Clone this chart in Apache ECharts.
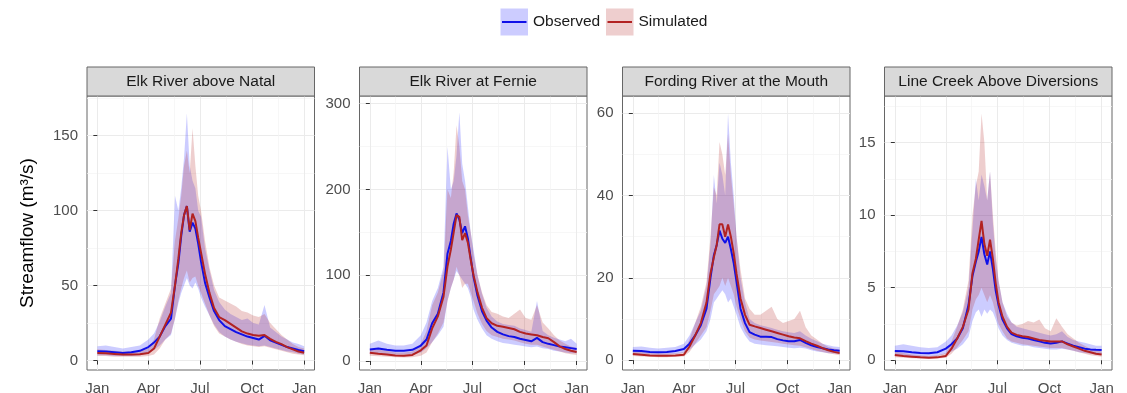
<!DOCTYPE html>
<html>
<head>
<meta charset="utf-8">
<title>Streamflow</title>
<script src="https://cdn.jsdelivr.net/npm/echarts@6/dist/echarts.min.js"></script>
<style>
  html, body { margin: 0; padding: 0; background: #fff; }
  #chart { width: 1127px; height: 393px; }
</style>
</head>
<body>
<div id="chart"></div>
<script>
// day of year for each sample
var days = [0, 15, 30, 45, 60, 75, 90, 100, 110, 120, 130, 137, 143, 148, 153, 158, 163, 168, 173, 178, 183,
  190, 198, 206, 215, 225, 235, 245, 255, 265, 275, 285, 295, 305, 315, 325, 335, 345, 355, 365];

var panelNames = ['Elk River above Natal', 'Elk River at Fernie', 'Fording River at the Mouth', 'Line Creek Above Diversions'];
var monthTicks = [0, 90, 181, 273, 365];
var monthLabels = ['Jan', 'Apr', 'Jul', 'Oct', 'Jan'];
var monthMinor = [45, 135.5, 227, 319];
var yTicks = [[0, 50, 100, 150], [0, 100, 200, 300], [0, 20, 40, 60], [0, 5, 10, 15]];
var yMinor = [[25, 75, 125, 175], [50, 150, 250], [10, 30, 50], [2.5, 7.5, 12.5, 17.5]];
var yRange = [[-6.3, 176.5], [-10.5, 309], [-2.4, 64.2], [-0.67, 18.2]];

// Elk River above Natal
var natalObs = [6.2, 6, 5.5, 5, 5.5, 6.5, 9, 12, 16, 23, 28, 50, 65, 83, 97, 103, 86, 92, 88, 78, 66, 52, 42, 33, 27, 23, 21, 19, 17.5, 16, 15, 14, 16.5, 13.5, 12, 10.5, 9, 8, 7, 6.2];
var natalSim = [5.1, 4.8, 4.4, 4, 4, 4.2, 5, 8, 16, 24, 32, 50, 68, 85, 97, 103, 87, 98, 93, 82, 72, 58, 45, 35, 29, 27, 24.5, 22, 19.5, 18, 17, 16.5, 17, 14.5, 12.5, 11, 9, 7.5, 6, 5.2];
var natalObsLo = [3.5, 3.5, 3, 3, 3, 3.5, 5, 7, 10, 14, 17, 28, 38, 45, 50, 55, 50, 48, 52, 48, 42, 36, 30, 24, 19, 16, 14, 12.5, 11.5, 10.5, 10, 9.5, 10, 9, 8, 7, 6, 5.5, 4.5, 4];
var natalObsHi = [9.5, 10, 9, 8, 9, 10, 14, 18, 26, 36, 45, 110, 100, 115, 135, 165, 130, 120, 115, 100, 96, 75, 60, 47, 39, 34, 31, 29, 27, 28, 25, 24, 37, 22, 19, 16, 14, 12, 11, 9.5];
var natalSimLo = [3, 3, 2.5, 2.5, 2.5, 2.5, 3, 4, 8, 14, 18, 28, 40, 48, 55, 60, 52, 55, 56, 50, 45, 38, 30, 23, 18, 16, 14, 12.5, 11, 10, 9.5, 9, 9.5, 8.5, 7.5, 6.5, 5.5, 4.5, 4, 3.5];
var natalSimHi = [7.5, 7, 6.5, 6, 6, 6.5, 8, 14, 28, 38, 48, 80, 95, 110, 130, 140, 125, 155, 130, 110, 100, 80, 62, 50, 42, 40, 38, 36, 33, 32, 30, 29, 31, 25, 21, 17, 14, 11, 9, 8];

// Elk River at Fernie
var fernieObs = [13.5, 14.5, 13, 12, 12, 13, 18, 25, 44, 55, 80, 125, 140, 160, 172, 165, 149, 157, 143, 120, 98, 76, 58, 47, 39, 34, 31, 29, 28, 26, 24.5, 23, 27, 22, 20, 18.5, 17, 16, 15, 14];
var fernieSim = [9.7, 8.5, 7.5, 6.5, 6.2, 7, 12.5, 18, 38, 52, 75, 110, 130, 150, 170, 168, 141, 149, 138, 118, 100, 80, 62, 50, 44, 41, 40, 38.5, 37, 34, 32, 31, 30, 28, 26.5, 22, 17, 14, 12, 10.5];
var fernieObsLo = [8, 9, 8, 7.5, 7.5, 8, 10, 15, 22, 30, 40, 70, 85, 95, 105, 100, 95, 90, 85, 75, 60, 48, 38, 30, 26, 23, 21, 20, 19, 18, 17, 16, 17, 15, 14, 12, 11, 10, 9, 9];
var fernieObsHi = [20, 24, 20, 18, 18, 20, 30, 45, 70, 85, 110, 250, 200, 210, 240, 290, 230, 210, 180, 150, 130, 100, 78, 62, 52, 46, 43, 42, 41, 38, 36, 34, 70, 35, 30, 27, 25, 23, 26, 20];
var fernieSimLo = [6, 5.5, 5, 4.5, 4, 4.5, 6, 10, 22, 32, 45, 70, 85, 95, 110, 100, 85, 90, 90, 80, 70, 55, 43, 35, 30, 28, 26, 25, 24, 22, 20, 19, 19, 17, 15, 13, 11, 9, 8, 7];
var fernieSimHi = [14, 13, 12, 10, 10, 11, 20, 35, 65, 80, 105, 200, 190, 220, 275, 250, 210, 200, 170, 150, 125, 100, 80, 65, 57, 55, 52, 50, 55, 60, 50, 48, 65, 45, 38, 30, 24, 20, 17, 15];

// Fording River at the Mouth
var fordingObs = [2.3, 2.2, 2, 1.9, 2, 2.2, 2.7, 4, 6, 8.5, 12.5, 20, 25.5, 28, 31.5, 29.5, 28.5, 30, 27, 23.6, 19, 12.5, 9, 6.8, 6.2, 5.7, 5.7, 5.6, 5.1, 4.8, 4.6, 4.6, 4.9, 4.2, 3.6, 3.2, 2.9, 2.6, 2.4, 2.3];
var fordingSim = [1.5, 1.3, 1.1, 1.05, 1.05, 1.1, 1.3, 3.3, 6, 9, 14, 21, 25, 28, 33, 33, 30, 33, 30, 26, 21, 15, 11, 8.6, 8.2, 7.8, 7.4, 7, 6.6, 6.2, 5.8, 5.5, 5.3, 4.6, 4, 3.5, 2.9, 2.4, 2, 1.7];
var fordingObsLo = [1.5, 1.5, 1.3, 1.3, 1.3, 1.5, 1.8, 2.5, 3.8, 5, 7, 10, 14, 15, 16, 17, 16, 14, 15, 13, 11, 8, 6, 4.5, 4, 3.8, 3.6, 3.5, 3.4, 3.2, 3, 2.9, 3, 2.8, 2.4, 2.1, 1.9, 1.7, 1.6, 1.5];
var fordingObsHi = [3.2, 3.3, 3, 2.8, 3, 3.2, 4, 6, 9, 12, 18, 28, 45, 38, 48, 45, 40, 60, 48, 40, 30, 20, 14, 10, 9, 8.5, 8.2, 7.8, 7.4, 7, 6.8, 6.6, 7, 6, 5.2, 4.6, 4, 3.6, 3.3, 3.2];
var fordingSimLo = [1, 0.9, 0.8, 0.7, 0.7, 0.8, 0.9, 2, 4, 6, 8, 12, 16, 17, 18, 20, 18, 20, 18, 16, 13, 10, 7, 5.5, 5, 4.8, 4.6, 4.4, 4.2, 4, 3.8, 3.6, 3.5, 3.1, 2.7, 2.3, 2, 1.7, 1.4, 1.2];
var fordingSimHi = [2.2, 2, 1.7, 1.6, 1.6, 1.7, 2, 5, 9, 13, 19, 30, 42, 40, 53, 50, 45, 55, 45, 38, 30, 22, 15, 12.5, 11, 11, 12, 13, 10, 9, 9.5, 10, 12, 8, 6, 5, 4, 3.2, 2.8, 2.5];

// Line Creek Above Diversions
var lineObs = [0.64, 0.62, 0.55, 0.5, 0.48, 0.55, 0.8, 1.1, 1.5, 2.2, 3.8, 5.8, 6.8, 7.5, 8.5, 7.3, 6.6, 7.5, 6.3, 4.8, 3.8, 2.8, 2.2, 1.8, 1.65, 1.55, 1.5, 1.4, 1.3, 1.2, 1.15, 1.2, 1.3, 1.15, 1, 0.9, 0.8, 0.75, 0.72, 0.7];
var lineSim = [0.37, 0.3, 0.25, 0.2, 0.18, 0.2, 0.3, 0.8, 1.5, 2.3, 3.5, 6, 7, 8.3, 9.6, 8, 7.2, 8.3, 7, 5.3, 4, 3, 2.3, 1.9, 1.75, 1.65, 1.6, 1.5, 1.4, 1.35, 1.3, 1.3, 1.3, 1.1, 0.95, 0.8, 0.65, 0.55, 0.45, 0.4];
var lineObsLo = [0.3, 0.3, 0.25, 0.25, 0.25, 0.3, 0.45, 0.6, 0.8, 1.1, 1.6, 2.7, 3.3, 3.5, 3, 3.5, 3.2, 3.5, 3.3, 2.8, 2.2, 1.7, 1.4, 1.2, 1.1, 1, 1, 0.9, 0.85, 0.8, 0.75, 0.75, 0.8, 0.75, 0.65, 0.55, 0.5, 0.45, 0.4, 0.4];
var lineObsHi = [1, 1.1, 1, 0.9, 0.85, 0.9, 1.3, 1.7, 2.4, 3.3, 5, 9, 12.5, 11, 12.8, 12, 11, 13, 9.5, 7, 5.5, 4, 3.2, 2.6, 2.3, 2.2, 2.1, 2, 1.9, 1.8, 1.7, 1.8, 2, 1.6, 1.4, 1.3, 1.2, 1.1, 1, 1];
var lineSimLo = [0.2, 0.17, 0.14, 0.12, 0.1, 0.12, 0.18, 0.45, 0.9, 1.4, 2, 3.5, 4.2, 4.5, 5, 4.5, 4, 4.5, 4, 3.2, 2.5, 2, 1.5, 1.3, 1.2, 1.1, 1.05, 1, 0.95, 0.9, 0.85, 0.85, 0.85, 0.75, 0.65, 0.55, 0.45, 0.35, 0.3, 0.25];
var lineSimHi = [0.6, 0.5, 0.4, 0.35, 0.3, 0.35, 0.5, 1.3, 2.3, 3.5, 5.5, 10, 12, 13, 17, 15, 11, 13, 10, 7.5, 5.5, 4, 3, 2.6, 2.4, 2.5, 2.7, 2.6, 2.8, 2.2, 2, 2.9, 2.3, 1.8, 1.5, 1.2, 1, 0.8, 0.7, 0.6];

var panels = [
  {obs: natalObs, sim: natalSim, obsLo: natalObsLo, obsHi: natalObsHi, simLo: natalSimLo, simHi: natalSimHi},
  {obs: fernieObs, sim: fernieSim, obsLo: fernieObsLo, obsHi: fernieObsHi, simLo: fernieSimLo, simHi: fernieSimHi},
  {obs: fordingObs, sim: fordingSim, obsLo: fordingObsLo, obsHi: fordingObsHi, simLo: fordingSimLo, simHi: fordingSimHi},
  {obs: lineObs, sim: lineSim, obsLo: lineObsLo, obsHi: lineObsHi, simLo: lineSimLo, simHi: lineSimHi}
];

// layout
var FONT = "'Liberation Sans', Arial, sans-serif";
var panelLeft = [87, 359.5, 622.5, 884.5];
var panelW = 227.5, panelTop = 96, panelH = 274, stripH = 29;
var obsColor = '#1010e8', simColor = '#b22222';
var obsFill = 'rgba(40,40,255,0.24)', simFill = 'rgba(178,34,34,0.22)';
var frameColor = '#666';

function pairs(vals) {
  return days.map(function(d, i) { return [d, vals[i]]; });
}

// ribbon between lo and hi, drawn once as a polygon through the axis scales
function ribbon(k, lo, hi, fill) {
  return {
    type: 'custom', xAxisIndex: 2 * k, yAxisIndex: 2 * k, silent: true, z: 1,
    data: days.map(function(d, i) { return [d, lo[i], hi[i]]; }),
    encode: {x: 0, y: [1, 2]},
    renderItem: function(params, api) {
      if (params.dataIndex !== 0) return null;
      var top = [], bottom = [];
      for (var i = 0; i < days.length; i++) {
        top.push(api.coord([days[i], hi[i]]));
        bottom.unshift(api.coord([days[i], lo[i]]));
      }
      return {
        type: 'polygon',
        shape: {points: top.concat(bottom)},
        style: {fill: fill}
      };
    }
  };
}

var grids = [], xAxes = [], yAxes = [], series = [], graphics = [];

panels.forEach(function(p, k) {
  grids.push({
    left: panelLeft[k], top: panelTop, width: panelW, height: panelH,
    outerBoundsMode: 'none', containLabel: false,
    show: true, borderColor: frameColor, borderWidth: 1, backgroundColor: '#fff'
  });

  xAxes.push({
    type: 'value', gridIndex: k, min: -18.25, max: 383.25,
    axisLine: {show: false},
    axisTick: {show: true, customValues: monthTicks, length: 4, lineStyle: {color: '#333'}},
    axisLabel: {
      customValues: monthTicks, fontSize: 15, color: '#4d4d4d', margin: 11, fontFamily: FONT,
      formatter: function(v) { return monthLabels[monthTicks.indexOf(v)]; }
    },
    splitLine: {show: true, lineStyle: {color: '#ebebeb', width: 1}}
  });
  xAxes.push({
    type: 'value', gridIndex: k, min: -18.25, max: 383.25,
    axisLine: {show: false},
    axisTick: {show: false, customValues: monthMinor},
    axisLabel: {show: false},
    splitLine: {show: true, lineStyle: {color: '#f3f3f3', width: 0.7}}
  });

  var yMain = {
    type: 'value', gridIndex: k, min: yRange[k][0], max: yRange[k][1],
    axisLine: {show: false},
    axisTick: {show: true, customValues: yTicks[k], length: 4, lineStyle: {color: '#333'}},
    axisLabel: {customValues: yTicks[k], fontSize: 15, color: '#4d4d4d', margin: 9, fontFamily: FONT},
    splitLine: {show: true, lineStyle: {color: '#ebebeb', width: 1}}
  };
  if (k === 0) {
    yMain.name = 'Streamflow (m³/s)';
    yMain.nameLocation = 'middle';
    yMain.nameRotate = 90;
    yMain.nameGap = 50;
    yMain.nameTextStyle = {fontSize: 19, color: '#000', fontFamily: FONT};
  }
  yAxes.push(yMain);
  yAxes.push({
    type: 'value', gridIndex: k, min: yRange[k][0], max: yRange[k][1],
    axisLine: {show: false},
    axisTick: {show: false, customValues: yMinor[k]},
    axisLabel: {show: false},
    splitLine: {show: true, lineStyle: {color: '#f3f3f3', width: 0.7}}
  });

  series.push(ribbon(k, p.obsLo, p.obsHi, obsFill));
  series.push(ribbon(k, p.simLo, p.simHi, simFill));
  series.push({
    name: 'Observed', type: 'line', xAxisIndex: 2 * k, yAxisIndex: 2 * k, data: pairs(p.obs),
    symbol: 'none', lineStyle: {color: obsColor, width: 2}, z: 3
  });
  series.push({
    name: 'Simulated', type: 'line', xAxisIndex: 2 * k, yAxisIndex: 2 * k, data: pairs(p.sim),
    symbol: 'none', lineStyle: {color: simColor, width: 2}, z: 4
  });

  // facet strip
  graphics.push({
    type: 'rect', shape: {x: panelLeft[k], y: panelTop - stripH, width: panelW, height: stripH},
    style: {fill: '#d9d9d9', stroke: frameColor, lineWidth: 1}, z: 10
  });
  graphics.push({
    type: 'text', x: panelLeft[k] + panelW / 2, y: panelTop - stripH / 2,
    style: {text: panelNames[k], fill: '#1a1a1a', font: '15.5px ' + FONT, textAlign: 'center', textVerticalAlign: 'middle'},
    z: 11
  });
});

// legend keys
[['Observed', 500.5, obsFill, obsColor], ['Simulated', 606, simFill, simColor]].forEach(function(l) {
  graphics.push({type: 'rect', shape: {x: l[1], y: 8.5, width: 27.5, height: 27}, style: {fill: l[2]}, z: 10});
  graphics.push({type: 'line', shape: {x1: l[1] + 1.5, y1: 22, x2: l[1] + 26, y2: 22}, style: {stroke: l[3], lineWidth: 2}, z: 11});
  graphics.push({
    type: 'text', x: l[1] + 32.5, y: 22,
    style: {text: l[0], fill: '#1a1a1a', font: '15.5px ' + FONT, textAlign: 'left', textVerticalAlign: 'middle'}, z: 11
  });
});

var chart = echarts.init(document.getElementById('chart'), null, {renderer: 'canvas'});
chart.setOption({
  animation: false,
  textStyle: {fontFamily: FONT},
  grid: grids,
  xAxis: xAxes,
  yAxis: yAxes,
  series: series,
  graphic: graphics
});
</script>
</body>
</html>
